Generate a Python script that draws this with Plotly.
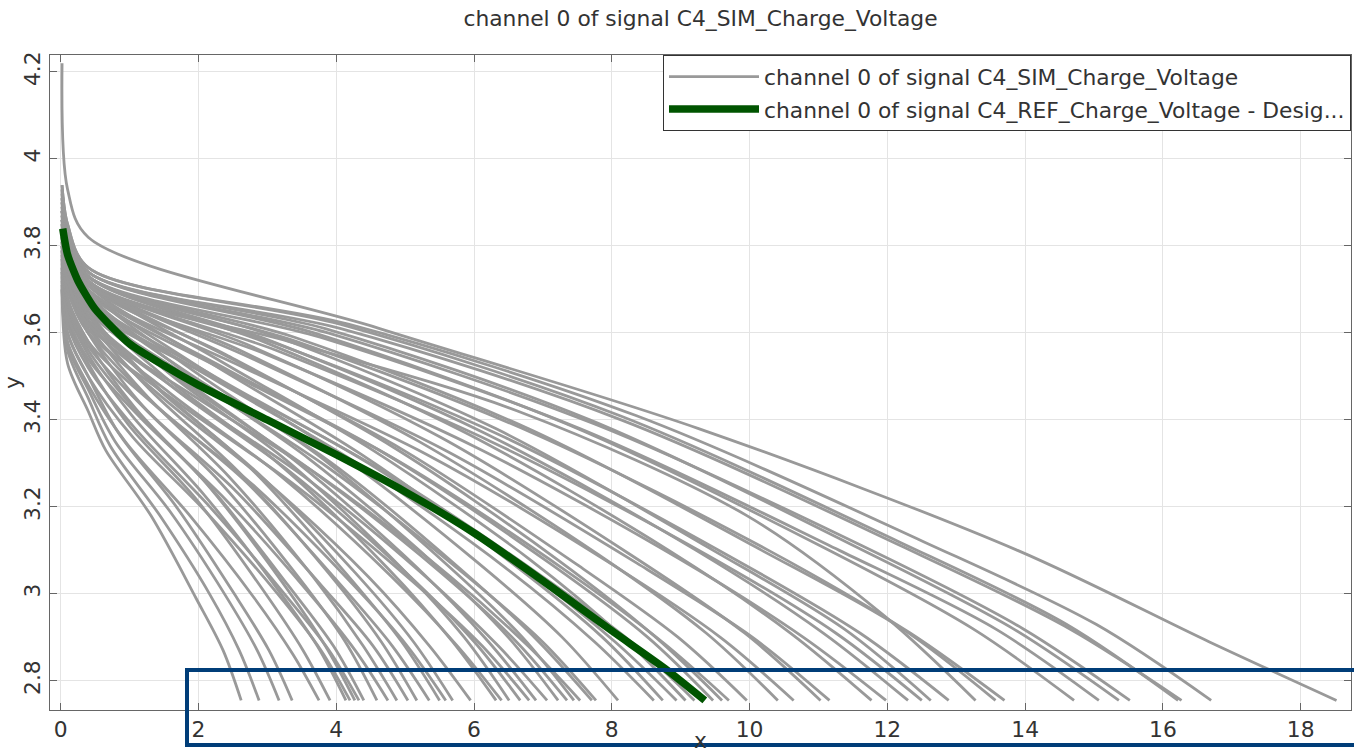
import plotly.graph_objects as go

TITLE = "channel 0 of signal C4_SIM_Charge_Voltage"
SIM_NAME = "channel 0 of signal C4_SIM_Charge_Voltage"
REF_NAME = "channel 0 of signal C4_REF_Charge_Voltage - Desig..."

# Simulated curves: end x of each curve (where it reaches the cut-off voltage)
END_X = [2.62, 2.88, 3.17, 3.36, 3.75, 3.91, 4.14, 4.20, 4.27, 4.33, 4.40, 4.59, 4.75,
         4.88, 5.04, 5.17, 5.35, 5.50, 5.59, 5.69, 5.95, 6.32, 6.40, 6.51, 6.67, 6.80,
         6.90, 7.06, 7.22, 7.35, 7.45, 7.54, 7.71, 7.77, 8.09, 8.61, 8.74, 8.94, 9.07,
         9.20, 9.47, 9.60, 9.70, 9.96, 10.41, 10.64, 11.03, 11.16, 11.77, 11.98, 12.30,
         12.50, 12.63, 12.89, 13.28, 13.57, 13.70, 14.71, 15.07, 15.36, 15.52, 16.22,
         16.27, 16.70, 18.52]
END_Y = 2.755

# knot positions: absolute x for the first three, fractions of END_X for the rest
ABS_KNOTS = [0.02, 0.1, 0.4]
FRAC_KNOTS = [0.25, 0.5, 0.75, 0.9, 1.0]

Y_START = [3.70, 3.72, 3.71, 3.74, 3.70, 3.75, 3.76, 3.73, 3.78, 3.74, 3.77, 3.79, 3.75,
           3.80, 3.77, 3.81, 3.79, 3.82, 3.78, 3.81, 3.80, 3.83, 3.80, 3.84, 3.82, 3.79,
           3.83, 3.81, 3.85, 3.82, 3.86, 3.80, 3.84, 3.83, 3.86,
           3.84, 3.87, 3.85, 3.88, 3.83, 3.86, 3.88, 3.85, 3.87, 3.88, 3.86, 3.89, 3.87,
           3.90, 3.88, 3.90, 3.88, 3.91, 3.89, 3.88, 3.91, 3.90, 3.92, 3.91, 3.93, 3.92,
           3.94, 3.93, 3.94, 4.22]
Y_01 = [3.53, 3.56, 3.57, 3.60, 3.58, 3.63, 3.65, 3.60, 3.68, 3.62, 3.66, 3.70, 3.64,
        3.72, 3.67, 3.73, 3.70, 3.74, 3.68, 3.73, 3.71, 3.75, 3.72, 3.77, 3.73, 3.70,
        3.76, 3.72, 3.78, 3.74, 3.79, 3.72, 3.77, 3.75, 3.79, 3.76, 3.80, 3.77, 3.81,
        3.75, 3.79, 3.81, 3.78, 3.81, 3.82, 3.79, 3.82, 3.81, 3.83, 3.81, 3.83, 3.82,
        3.83, 3.82, 3.81, 3.83, 3.83, 3.84, 3.83, 3.84, 3.84, 3.85, 3.84, 3.85, 3.93]
Y_KNEE = [3.42, 3.45, 3.47, 3.50, 3.48, 3.53, 3.55, 3.50, 3.58, 3.52, 3.56, 3.60, 3.54,
          3.62, 3.57, 3.63, 3.60, 3.65, 3.58, 3.64, 3.61, 3.66, 3.62, 3.68, 3.64, 3.60,
          3.67, 3.63, 3.69, 3.65, 3.70, 3.62, 3.68, 3.66, 3.70, 3.67, 3.71, 3.68, 3.72,
          3.66, 3.70, 3.71, 3.69, 3.72, 3.72, 3.70, 3.72, 3.72, 3.73, 3.71, 3.73, 3.72,
          3.73, 3.72, 3.71, 3.73, 3.73, 3.74, 3.73, 3.74, 3.74, 3.75, 3.74, 3.75, 3.82]
Y_Q1 = [3.33, 3.34, 3.35, 3.37, 3.35, 3.39, 3.41, 3.36, 3.43, 3.38, 3.42, 3.44, 3.40,
        3.46, 3.42, 3.47, 3.44, 3.48, 3.43, 3.47, 3.45, 3.49, 3.46, 3.50, 3.47, 3.44,
        3.50, 3.46, 3.51, 3.48, 3.52, 3.46, 3.50, 3.49, 3.52, 3.50, 3.53, 3.50, 3.54,
        3.49, 3.52, 3.55, 3.51, 3.54, 3.56, 3.52, 3.57, 3.54, 3.58, 3.55, 3.58, 3.56,
        3.59, 3.57, 3.58, 3.59, 3.58, 3.60, 3.59, 3.61, 3.60, 3.62, 3.61, 3.62, 3.61]
Y_MID = [3.18, 3.18, 3.19, 3.20, 3.18, 3.22, 3.23, 3.19, 3.25, 3.20, 3.24, 3.26, 3.22,
         3.27, 3.24, 3.28, 3.26, 3.29, 3.25, 3.28, 3.26, 3.30, 3.27, 3.31, 3.28, 3.25,
         3.30, 3.27, 3.31, 3.28, 3.32, 3.27, 3.31, 3.29, 3.32, 3.30, 3.32, 3.30, 3.33,
         3.29, 3.32, 3.34, 3.31, 3.33, 3.35, 3.32, 3.36, 3.33, 3.37, 3.34, 3.37, 3.35,
         3.38, 3.36, 3.42, 3.38, 3.37, 3.39, 3.38, 3.40, 3.39, 3.41, 3.40, 3.41, 3.38]
Y_Q3 = [2.99, 3.00, 3.00, 3.00, 2.99, 3.01, 3.02, 3.00, 3.03, 3.00, 3.02, 3.04, 3.01,
        3.04, 3.02, 3.05, 3.03, 3.05, 3.03, 3.05, 3.04, 3.06, 3.04, 3.07, 3.05, 3.03,
        3.06, 3.04, 3.07, 3.05, 3.07, 3.04, 3.06, 3.05, 3.07, 3.06, 3.07, 3.06, 3.08,
        3.05, 3.07, 3.08, 3.06, 3.07, 3.09, 3.07, 3.09, 3.07, 3.10, 3.08, 3.10, 3.09,
        3.10, 3.09, 3.18, 3.10, 3.10, 3.11, 3.10, 3.11, 3.11, 3.12, 3.11, 3.12, 3.10]
Y_Q9 = [2.87, 2.87, 2.87, 2.87, 2.86, 2.87, 2.88, 2.87, 2.88, 2.87, 2.88, 2.89, 2.87,
        2.88, 2.88, 2.89, 2.88, 2.89, 2.88, 2.89, 2.88, 2.89, 2.88, 2.90, 2.89, 2.88,
        2.89, 2.88, 2.90, 2.89, 2.90, 2.88, 2.89, 2.89, 2.90, 2.89, 2.90, 2.89, 2.90,
        2.89, 2.90, 2.90, 2.89, 2.90, 2.91, 2.90, 2.91, 2.90, 2.91, 2.90, 2.91, 2.91,
        2.92, 2.91, 2.95, 2.92, 2.91, 2.92, 2.92, 2.92, 2.92, 2.93, 2.92, 2.93, 2.89]

# Reference (design) curve
REF_X = [0.03, 0.1, 0.25, 0.5, 1.0, 1.5, 2.0, 3.0, 4.0, 5.0, 6.0, 7.0, 8.0, 8.8, 9.35]
REF_Y = [3.84, 3.78, 3.72, 3.655, 3.575, 3.525, 3.48, 3.40, 3.32, 3.235, 3.14, 3.03,
         2.915, 2.825, 2.755]

X_RANGE = [-0.155, 18.73]
Y_RANGE = [2.733, 4.239]

FONT = "DejaVu Sans, Verdana, sans-serif"
FS = 21.8
GREY = "#999999"
GREEN = "#005400"
NAVY = "#003d78"

fig = go.Figure()

for i, e in enumerate(END_X):
    xs = ABS_KNOTS + [f * e for f in FRAC_KNOTS]
    ys = [Y_START[i], Y_01[i], Y_KNEE[i], Y_Q1[i], Y_MID[i], Y_Q3[i], Y_Q9[i], END_Y]
    fig.add_trace(go.Scatter(
        x=xs, y=ys, mode="lines",
        line=dict(color=GREY, width=2.8, shape="spline", smoothing=0.9),
        name=SIM_NAME, legendgroup="sim", showlegend=(i == 0),
        hoverinfo="skip",
    ))

fig.add_trace(go.Scatter(
    x=REF_X, y=REF_Y, mode="lines",
    line=dict(color=GREEN, width=7.5, shape="spline", smoothing=0.6),
    name=REF_NAME, legendgroup="ref", hoverinfo="skip",
))

axis_common = dict(
    showline=True, linecolor="#666666", linewidth=1, mirror="ticks",
    ticks="inside", ticklen=7, tickcolor="#666666",
    showgrid=True, gridcolor="#e4e4e4", gridwidth=1,
    zeroline=False,
    tickfont=dict(family=FONT, size=FS, color="#333333"),
)

fig.update_layout(
    width=1354, height=753,
    margin=dict(l=50, r=3, t=55, b=43, autoexpand=False),
    paper_bgcolor="white", plot_bgcolor="white",
    font=dict(family=FONT, size=FS, color="#333333"),
    title=dict(text=TITLE, x=0.5, xref="paper", xanchor="center",
               y=1 - 18 / 753, yref="container", yanchor="middle",
               font=dict(family=FONT, size=FS, color="#333333")),
    xaxis=dict(range=X_RANGE, dtick=2, tick0=0, automargin=False,
               title=dict(text="x", standoff=18, font=dict(family=FONT, size=FS)),
               **axis_common),
    yaxis=dict(range=Y_RANGE, dtick=0.2, tick0=0, tickangle=-90, automargin=False,
               title=dict(text="y", standoff=4, font=dict(family=FONT, size=FS)),
               **axis_common),
    legend=dict(x=1.0, xanchor="right", y=1.0, yanchor="top",
                bgcolor="white", bordercolor="#333333", borderwidth=1,
                font=dict(family=FONT, size=FS, color="#333333"),
                tracegroupgap=1, itemwidth=90),
    showlegend=True,
    shapes=[dict(type="rect", xref="paper", yref="paper",
                 x0=(187 - 50) / 1301, x1=1.02, y0=(710 - 745) / 655, y1=(710 - 670) / 655,
                 line=dict(color=NAVY, width=4), fillcolor="rgba(0,0,0,0)", layer="above")],
)

fig.write_html("out.html")
